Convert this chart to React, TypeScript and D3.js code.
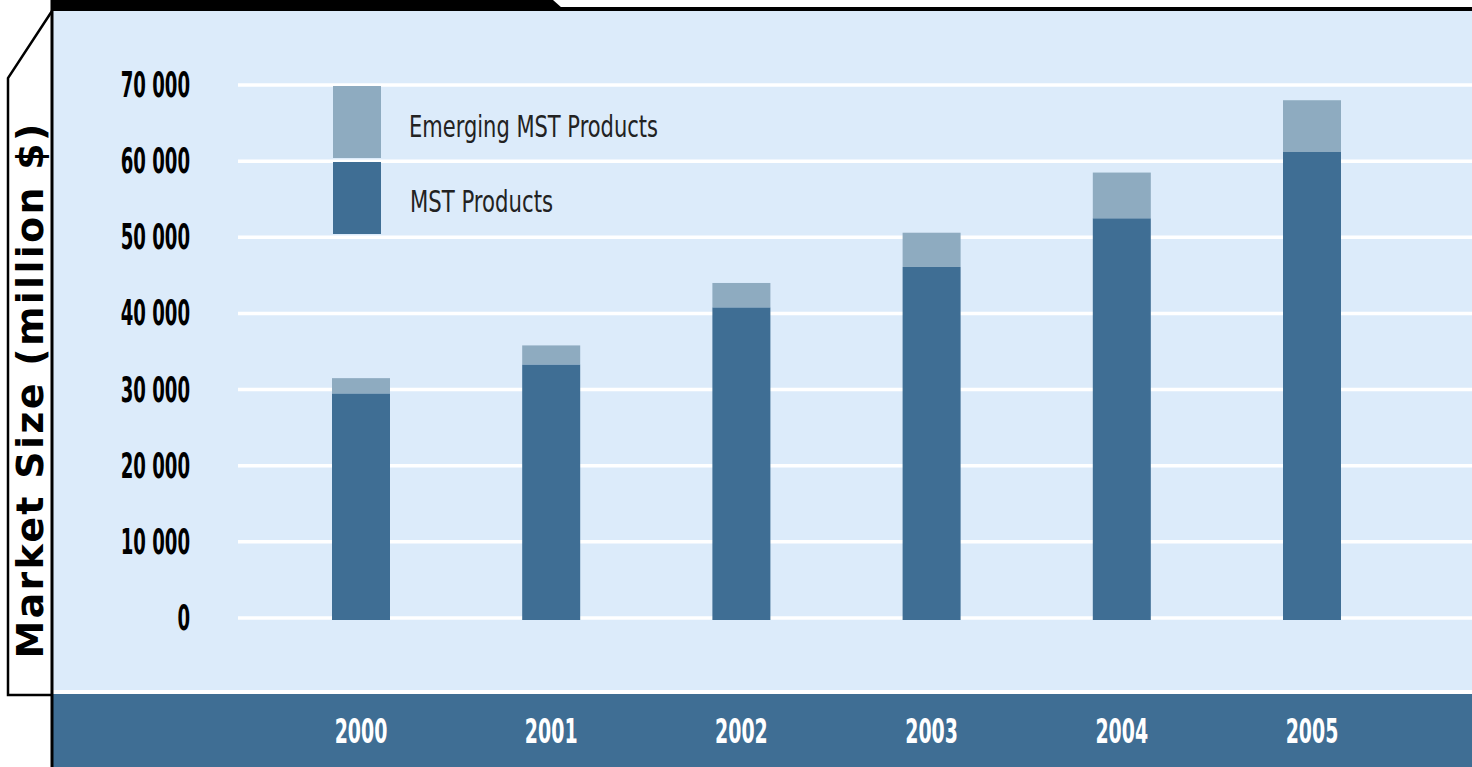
import * as d3 from "d3";
import React from "react";

// market size, million $
const years = ["2000", "2001", "2002", "2003", "2004", "2005"];
const mstProducts = [29500, 33300, 40800, 46100, 52500, 61200];
const emergingProducts = [2000, 2500, 3200, 4500, 6000, 6800];
const yTicks = [0, 10000, 20000, 30000, 40000, 50000, 60000, 70000];
const seriesNames = ["Emerging MST Products", "MST Products"];

const width = 1472;
const height = 767;
const lightBlue = "#dcebfa";
const darkBlue = "#3f6e94";
const paleBar = "#8eabc0";
const condensed = "'DejaVu Sans Condensed', 'DejaVu Sans', sans-serif";

const App: React.FC = () => {
  const y = d3.scaleLinear().domain([0, 70000]).range([618, 85]);
  const x = d3.scalePoint<string>().domain(years).range([361, 1312]);
  const barW = 58;

  const fmt = (v: number) => d3.format(",")(v).replace(/,/g, " ");

  const stacked = d3
    .stack<number>()
    .keys(["mst", "emerging"])
    .value((i, key) => (key === "mst" ? mstProducts[i] : emergingProducts[i]))(
    years.map((_, i) => i)
  );

  return (
    <div style={{ position: "absolute", left: 0, top: 0, width, height, overflow: "hidden" }}>
      <svg width={width} height={height} style={{ display: "block", background: "#fff" }}>
        {/* plot panel */}
        <rect x={52} y={10} width={width - 52} height={682} fill={lightBlue} />
        <rect x={52} y={690} width={width - 52} height={4} fill="#fff" />
        <rect x={52} y={694} width={width - 52} height={height - 694} fill={darkBlue} />

        {/* top tab and frame */}
        <path d="M52,0 L553,0 L562,8 L52,8 Z" fill="#000" />
        <rect x={52} y={7} width={width - 52} height={4} fill="#000" />
        <path d="M52,11 L8,78 L8,695 L52,695" fill="#fff" stroke="#000" strokeWidth={2.5} />
        <line x1={52} x2={52} y1={0} y2={height} stroke="#000" strokeWidth={3} />

        {/* gridlines */}
        {yTicks.map((t) => (
          <line key={t} x1={238} x2={width} y1={y(t)} y2={y(t)} stroke="#fff" strokeWidth={3.5} />
        ))}

        {/* y tick labels */}
        {yTicks.map((t) => (
          <text
            key={"l" + t}
            transform={`translate(190,${y(t) + 12}) scale(0.56,1)`}
            textAnchor="end"
            fontFamily={condensed}
            fontWeight="bold"
            fontSize={36}
            fill="#000"
          >
            {fmt(t)}
          </text>
        ))}

        {/* y axis title */}
        <text
          transform="translate(43,391) rotate(-90)"
          textAnchor="middle"
          fontFamily="'DejaVu Sans', sans-serif"
          fontWeight="bold"
          fontSize={38}
          textLength={535}
          lengthAdjust="spacing"
          fill="#000"
        >
          Market Size (million $)
        </text>

        {/* bars */}
        {stacked.map((layer) =>
          layer.map((d, i) => (
            <rect
              key={layer.key + i}
              x={(x(years[i]) as number) - barW / 2}
              y={y(d[1])}
              width={barW}
              height={y(d[0]) - y(d[1]) + (layer.key === "mst" ? 2 : 0)}
              fill={layer.key === "mst" ? darkBlue : paleBar}
            />
          ))
        )}

        {/* year labels */}
        {years.map((yr) => (
          <text
            key={yr}
            transform={`translate(${x(yr)},743) scale(0.62,1)`}
            textAnchor="middle"
            fontFamily={condensed}
            fontWeight="bold"
            fontSize={34}
            fill="#fff"
          >
            {yr}
          </text>
        ))}

        {/* legend */}
        <rect x={333} y={86} width={48} height={72} fill={paleBar} />
        <rect x={333} y={162} width={48} height={72} fill={darkBlue} />
        <text x={409} y={137} fontFamily={condensed} fontSize={30} textLength={249} lengthAdjust="spacingAndGlyphs" fill="#222">
          {seriesNames[0]}
        </text>
        <text x={410} y={212} fontFamily={condensed} fontSize={30} textLength={143} lengthAdjust="spacingAndGlyphs" fill="#222">
          {seriesNames[1]}
        </text>
      </svg>
    </div>
  );
};

export default App;
